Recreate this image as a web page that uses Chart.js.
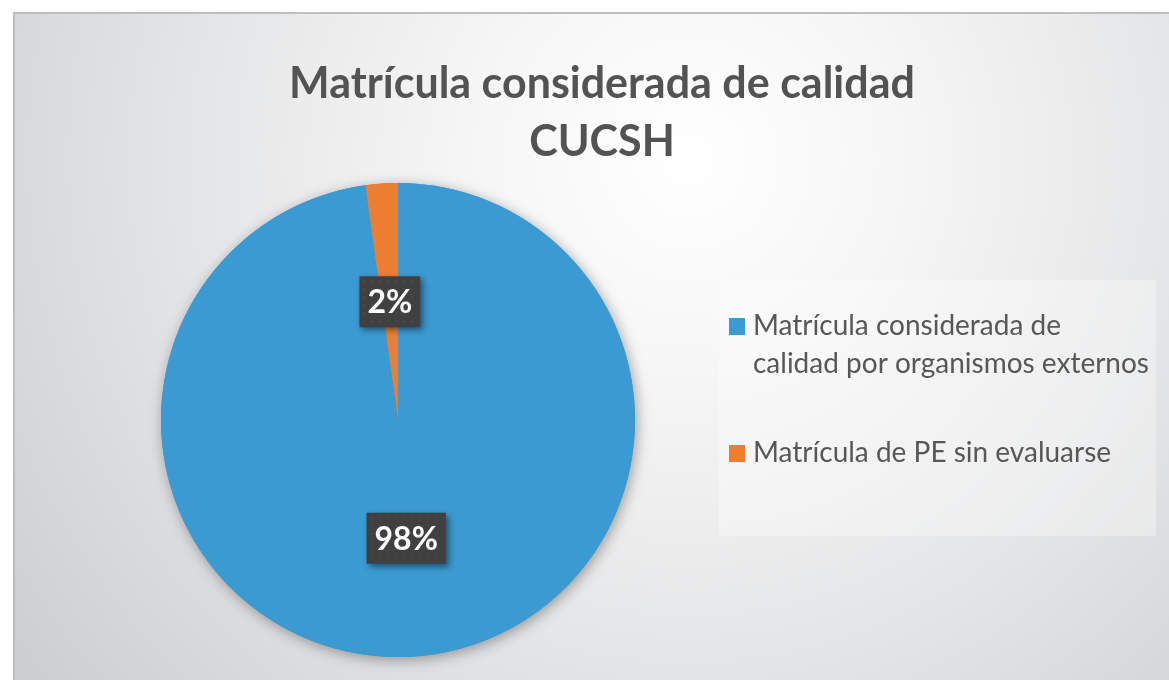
<!DOCTYPE html>
<html>
<head>
<meta charset="utf-8">
<script src="https://cdn.jsdelivr.net/npm/chart.js@4.4.0/dist/chart.umd.min.js"></script>
<style>
  html, body { margin: 0; padding: 0; background: #fff; }
  #wrap { width: 1169px; height: 680px; }
</style>
</head>
<body>
<div id="wrap"><canvas id="pieChart" width="1169" height="680"></canvas></div>
<script>
const titleLines = ['Matrícula considerada de calidad', 'CUCSH'];
const categories = ['Matrícula considerada de calidad por organismos externos', 'Matrícula de PE sin evaluarse'];
const legendLines = [['Matrícula considerada de', 'calidad por organismos externos'], ['Matrícula de PE sin evaluarse']];
const shares = [97.8, 2.2];
const sliceColors = ['#3a9ad1', '#ed7d31'];

const textColor = '#575757';
const fontFamily = 'Lato, "Open Sans", sans-serif';

// background, frame, title and legend box
const backdrop = {
    id: 'backdrop',
    beforeDraw(chart) {
        const c = chart.ctx;
        const w = chart.width, h = chart.height;
        c.save();
        c.fillStyle = '#ffffff';
        c.fillRect(0, 0, w, h);
        const g = c.createRadialGradient(690, 160, 0, 690, 160, 840);
        g.addColorStop(0, '#ffffff');
        g.addColorStop(0.25, '#f6f6f7');
        g.addColorStop(0.6, '#e4e5e6');
        g.addColorStop(1, '#cdced0');
        c.fillStyle = g;
        c.fillRect(14, 13, w - 14, h - 13);
        c.strokeStyle = '#bdbdbd';
        c.lineWidth = 2;
        c.beginPath();
        c.moveTo(14, h);
        c.lineTo(14, 13);
        c.lineTo(w, 13);
        c.stroke();

        c.fillStyle = '#535353';
        c.textAlign = 'center';
        c.textBaseline = 'alphabetic';
        c.font = 'bold 43px ' + fontFamily;
        c.fillText(titleLines[0], 602, 98);
        c.fillText(titleLines[1], 602, 156);

        c.fillStyle = 'rgba(255,255,255,0.32)';
        c.fillRect(719, 280, 437, 256);
        c.restore();
    },
    beforeDatasetsDraw(chart) {
        const arc = chart.getDatasetMeta(0).data[0];
        if (!arc) return;
        const c = chart.ctx;
        c.save();
        c.shadowColor = 'rgba(0,0,0,0.35)';
        c.shadowBlur = 14;
        c.shadowOffsetX = 2;
        c.shadowOffsetY = 3;
        c.fillStyle = sliceColors[0];
        c.beginPath();
        c.arc(arc.x, arc.y, arc.outerRadius, 0, Math.PI * 2);
        c.fill();
        c.restore();
    }
};

// percentage boxes on the slices
const sliceLabels = {
    id: 'sliceLabels',
    afterDatasetsDraw(chart) {
        const c = chart.ctx;
        const meta = chart.getDatasetMeta(0);
        const total = shares.reduce((a, b) => a + b, 0);
        meta.data.forEach((arc, i) => {
            const p = arc.getCenterPoint();
            const txt = Math.round(shares[i] / total * 100) + '%';
            c.save();
            c.font = 'bold 32px ' + fontFamily;
            const tw = c.measureText(txt).width;
            const bw = tw + 16, bh = 51;
            const bx = p.x - bw / 2, by = p.y - bh / 2;
            c.shadowColor = 'rgba(0,0,0,0.45)';
            c.shadowBlur = 6;
            c.shadowOffsetX = 3;
            c.shadowOffsetY = 3;
            c.fillStyle = '#404040';
            c.fillRect(bx, by, bw, bh);
            c.shadowColor = 'transparent';
            c.fillStyle = '#4d4d4d';
            for (let yy = by + 4; yy < by + bh; yy += 8) {
                for (let xx = bx + 4; xx < bx + bw; xx += 8) {
                    c.fillRect(xx, yy, 1.5, 1.5);
                }
            }
            c.fillStyle = '#ffffff';
            c.textAlign = 'center';
            c.textBaseline = 'middle';
            c.fillText(txt, p.x, p.y + 1);
            c.restore();
        });
    }
};

// legend on the right
const sideLegend = {
    id: 'sideLegend',
    afterDraw(chart) {
        const c = chart.ctx;
        const rows = [335, 462];
        c.save();
        c.font = '28px ' + fontFamily;
        c.textAlign = 'left';
        c.textBaseline = 'alphabetic';
        legendLines.forEach((lines, i) => {
            c.fillStyle = sliceColors[i];
            c.fillRect(729, rows[i] - 17, 16, 17);
            c.fillStyle = textColor;
            lines.forEach((ln, k) => c.fillText(ln, 753, rows[i] + k * 38));
        });
        c.restore();
    }
};

const ctx = document.getElementById('pieChart').getContext('2d');
const pieChart = new Chart(ctx, {
    type: 'pie',
    data: {
        labels: categories,
        datasets: [{
            data: shares,
            backgroundColor: sliceColors,
            borderWidth: 0
        }]
    },
    options: {
        responsive: false,
        animation: false,
        layout: {
            padding: { left: 161, right: 534, top: 183, bottom: 23 }
        },
        plugins: {
            legend: { display: false },
            title: { display: false },
            tooltip: { enabled: false }
        }
    },
    plugins: [backdrop, sliceLabels, sideLegend]
});
</script>
</body>
</html>
